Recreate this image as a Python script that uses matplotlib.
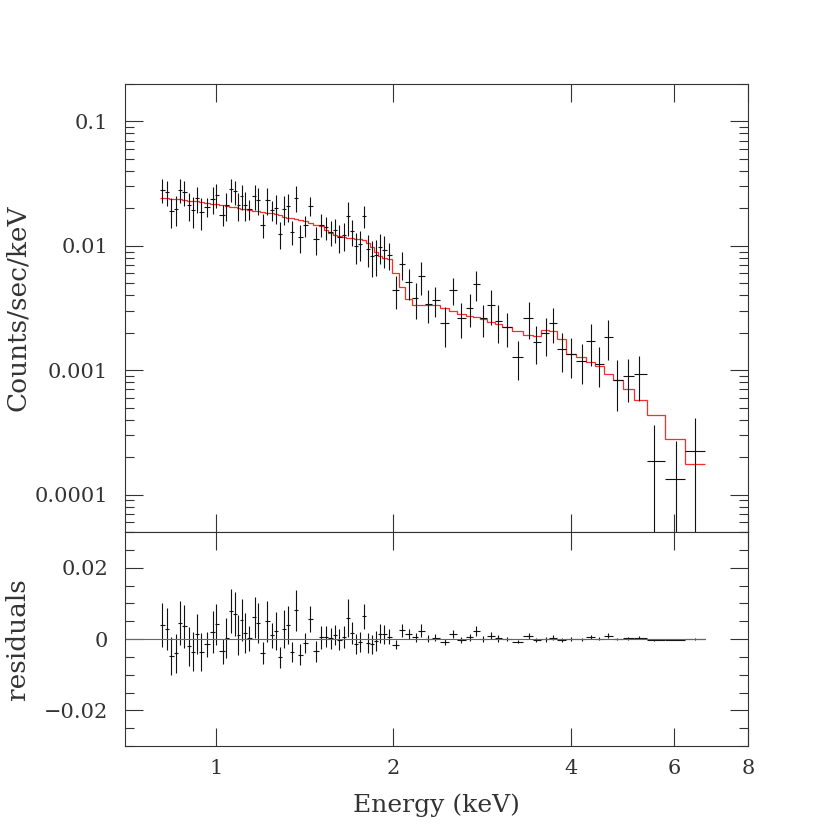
import numpy as np
import matplotlib
matplotlib.use("Agg")
import matplotlib.pyplot as plt
from matplotlib.ticker import FixedLocator, FuncFormatter, MultipleLocator, NullLocator, LogLocator

# bin centres (keV)
energy = [0.810, 0.824, 0.839, 0.854, 0.869, 0.883, 0.899, 0.913, 0.927, 0.943,
          0.965, 0.987, 1.000, 1.025, 1.041, 1.060, 1.076, 1.090, 1.106, 1.119,
          1.138, 1.162, 1.177, 1.199, 1.220, 1.244, 1.264, 1.283, 1.305, 1.326,
          1.346, 1.366, 1.390, 1.415, 1.445, 1.477, 1.507, 1.537, 1.565, 1.594,
          1.619, 1.646, 1.675, 1.699, 1.728, 1.755, 1.785, 1.811, 1.840, 1.869,
          1.898, 1.931, 1.963, 2.016, 2.069, 2.123, 2.180, 2.229, 2.291, 2.357,
          2.442, 2.522, 2.608, 2.694, 2.765, 2.837, 2.932, 3.009, 3.113, 3.253,
          3.394, 3.498, 3.627, 3.732, 3.861, 4.005, 4.176, 4.326, 4.475, 4.629,
          4.794, 5.006, 5.227, 5.542, 6.026, 6.508]
first_edge = 0.803
last_edge = 6.76

# counts/sec/keV
flux = [0.0282, 0.0269, 0.0191, 0.0198, 0.0281, 0.0269, 0.0211, 0.0194, 0.0241, 0.0188,
        0.0207, 0.0239, 0.0258, 0.0178, 0.0213, 0.0285, 0.0274, 0.0212, 0.0252, 0.0214,
        0.0197, 0.0252, 0.0233, 0.0148, 0.0235, 0.0194, 0.0202, 0.0125, 0.0199, 0.0208,
        0.0129, 0.0244, 0.0117, 0.0146, 0.0210, 0.0113, 0.0148, 0.0141, 0.0129, 0.0134,
        0.0117, 0.0122, 0.0174, 0.0131, 0.0099, 0.0104, 0.0175, 0.0095, 0.0083, 0.0084,
        0.0098, 0.0093, 0.0085, 0.0044, 0.0071, 0.0051, 0.0038, 0.0057, 0.0034, 0.0037,
        0.00240, 0.00445, 0.00265, 0.00315, 0.00495, 0.00261, 0.00335, 0.00250, 0.00221, 0.00128,
        0.00265, 0.00170, 0.00198, 0.00241, 0.00147, 0.00135, 0.00119, 0.00172, 0.00113, 0.00186,
        0.00084, 0.00090, 0.00094, 0.000186, 0.000134, 0.000226]

flux_err = [0.0062, 0.0060, 0.0053, 0.0054, 0.0062, 0.0060, 0.0054, 0.0054, 0.0056, 0.0053,
            0.0035, 0.0059, 0.0058, 0.0034, 0.0055, 0.0062, 0.0061, 0.0055, 0.0058, 0.0056,
            0.0036, 0.0057, 0.0056, 0.0032, 0.0057, 0.0035, 0.0052, 0.0030, 0.0053, 0.0053,
            0.0028, 0.0057, 0.0029, 0.0029, 0.0036, 0.0029, 0.0031, 0.0030, 0.0029, 0.0029,
            0.0030, 0.0031, 0.0053, 0.0031, 0.0028, 0.0028, 0.0035, 0.0028, 0.0027, 0.0027,
            0.0027, 0.0027, 0.0021, 0.0013, 0.0018, 0.0014, 0.0012, 0.0017, 0.0010, 0.0010,
            0.00085, 0.00111, 0.00085, 0.00093, 0.00136, 0.00076, 0.00104, 0.00085, 0.00066, 0.00045,
            0.00086, 0.00058, 0.00067, 0.00076, 0.00051, 0.00048, 0.00042, 0.00064, 0.00040, 0.00065,
            0.00037, 0.00034, 0.00037, 0.000174, 0.000138, 0.00019]

model = [0.02425, 0.02411, 0.02393, 0.02380, 0.02366, 0.02336, 0.02314, 0.02297, 0.02280, 0.02255,
         0.02222, 0.02189, 0.02169, 0.02129, 0.02101, 0.02063, 0.02036, 0.02010, 0.01988, 0.01970,
         0.01951, 0.01916, 0.01894, 0.01870, 0.01852, 0.01829, 0.01795, 0.01762, 0.01714, 0.01688,
         0.01663, 0.01636, 0.01612, 0.01576, 0.01533, 0.01477, 0.01437, 0.01346, 0.01273, 0.01227,
         0.01189, 0.01175, 0.01160, 0.01149, 0.01139, 0.01128, 0.01118, 0.01057, 0.00981, 0.00899,
         0.00830, 0.00796, 0.00781,
         0.00603, 0.00465, 0.00372, 0.00332, 0.00332, 0.00332, 0.00332, 0.00318, 0.00299, 0.00281,
         0.00272, 0.00266, 0.00258, 0.00244, 0.00235, 0.00221, 0.00205, 0.00191, 0.00188, 0.00210,
         0.00205, 0.00177, 0.00136, 0.00127, 0.00117, 0.00108, 0.00094, 0.00083, 0.00070, 0.00058,
         0.00044, 0.00028, 0.000175]

FONT = "DejaVu Serif"
TXT = "#333333"


def style_axis(ax):
    ax.tick_params(which="both", direction="in", top=True, right=True,
                   width=0.8, colors=TXT, labelsize=15, labelcolor=TXT)
    ax.tick_params(which="major", length=13)
    ax.tick_params(which="minor", length=6.5)
    ax.tick_params(axis="y", pad=12)
    ax.tick_params(axis="x", pad=9)
    for s in ax.spines.values():
        s.set_linewidth(0.8)
        s.set_color(TXT)


def main():
    plt.rcParams["font.family"] = [FONT, "DejaVu Sans"]

    e = np.array(energy)
    f = np.array(flux)
    ferr = np.array(flux_err)
    m = np.array(model)
    edges = np.concatenate([[first_edge], np.sqrt(e[:-1] * e[1:]), [last_edge]])
    xerr = np.vstack([e - edges[:-1], edges[1:] - e])
    resid = f - m

    fig = plt.figure(figsize=(8.3, 8.3), dpi=100)
    ax1 = fig.add_axes([0.1506, 0.3590, 0.7506, 0.5398])
    ax2 = fig.add_axes([0.1506, 0.1012, 0.7506, 0.2578], sharex=ax1)

    # spectrum
    ax1.errorbar(e, f, xerr=xerr, yerr=ferr, fmt="none", ecolor="#111111",
                 elinewidth=0.8, capsize=0)
    ax1.stairs(m, edges, baseline=None, color="#ff2a2a", linewidth=0.9)
    ax1.set_xscale("log")
    ax1.set_yscale("log")
    ax1.set_xlim(0.7, 8)
    ax1.set_ylim(5e-5, 0.2)
    ax1.yaxis.set_major_locator(LogLocator(base=10))
    ax1.yaxis.set_minor_locator(LogLocator(base=10, subs=np.arange(2, 10)))
    ax1.yaxis.set_major_formatter(FuncFormatter(lambda v, p: f"{v:g}"))
    ax1.set_ylabel("Counts/sec/keV", fontsize=19, color=TXT)
    ax1.yaxis.set_label_coords(-0.153, 0.5)
    style_axis(ax1)
    ax1.tick_params(axis="x", labelbottom=False)

    # residuals
    ax2.errorbar(e, resid, xerr=xerr, yerr=ferr, fmt="none", ecolor="#111111",
                 elinewidth=0.8, capsize=0)
    ax2.plot([0.7, last_edge], [0, 0], color="#666666", linewidth=0.8)
    ax2.set_ylim(-0.03, 0.03)
    ax2.yaxis.set_major_locator(MultipleLocator(0.02))
    ax2.yaxis.set_minor_locator(MultipleLocator(0.005))

    def rfmt(v, p):
        if abs(v) < 1e-9:
            return "0"
        return f"{v:.2f}".replace("-", "\u2212")
    ax2.yaxis.set_major_formatter(FuncFormatter(rfmt))
    ax2.xaxis.set_major_locator(FixedLocator([1, 2, 4, 6, 8]))
    ax2.xaxis.set_minor_locator(NullLocator())
    ax2.xaxis.set_major_formatter(FuncFormatter(lambda v, p: f"{v:g}"))
    ax2.set_xlim(0.7, 8)
    ax2.set_ylabel("residuals", fontsize=19, color=TXT)
    ax2.yaxis.set_label_coords(-0.153, 0.5)
    ax2.set_xlabel("Energy (keV)", fontsize=18, color=TXT)
    ax2.xaxis.set_label_coords(0.5, -0.22)
    style_axis(ax2)

    fig.savefig("out.png", dpi=100)
    plt.close(fig)


if __name__ == "__main__":
    main()
